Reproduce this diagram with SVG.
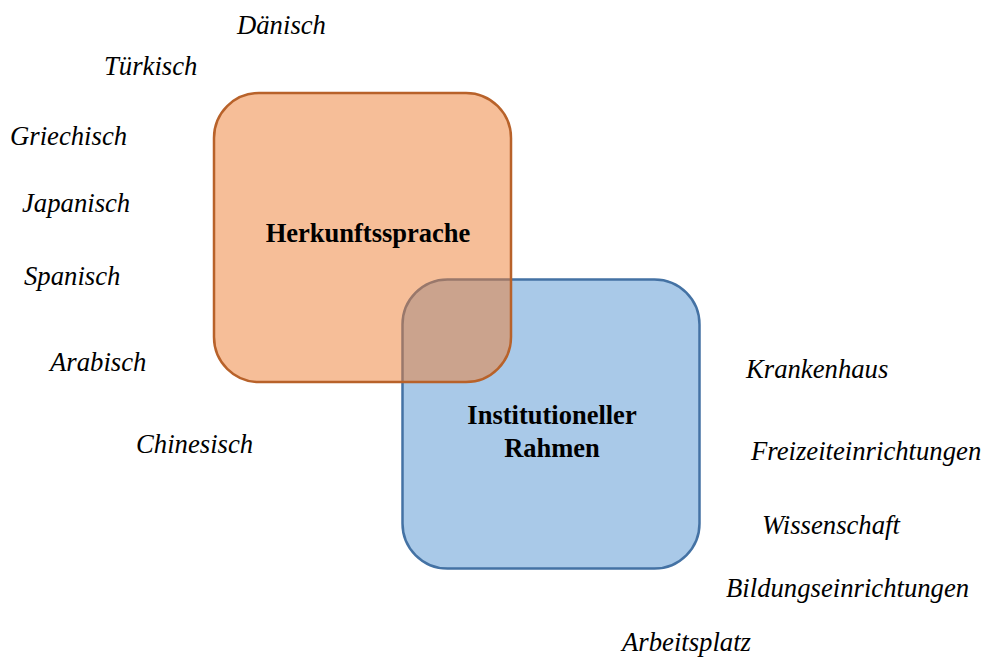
<svg xmlns="http://www.w3.org/2000/svg" width="984" height="657" viewBox="0 0 984 657">
<style>
.lbl{font-family:"Liberation Serif","Times New Roman",serif;font-style:italic;font-size:26.7px;fill:#000}
.ttl{font-family:"Liberation Serif","Times New Roman",serif;font-weight:bold;font-size:26.5px;fill:#000;text-anchor:middle}
</style>
<rect width="984" height="657" fill="#fff"/>
<g id="node-institutioneller-rahmen">
<rect x="402.5" y="279.5" width="297" height="289" rx="45" ry="45" fill="#A9C9E8" stroke="#4472A4" stroke-width="2.5"/>
</g>
<g id="node-herkunftssprache">
<rect x="214" y="93" width="297" height="289" rx="45" ry="45" fill="#ED7D31" fill-opacity="0.5" stroke="#B8622A" stroke-width="2.5"/>
</g>
<g id="titles">
<text class="ttl" x="368" y="242">Herkunftssprache</text>
<text class="ttl" x="552" y="424">Institutioneller</text>
<text class="ttl" x="552" y="457">Rahmen</text>
</g>
<g id="connectors"></g>
<g id="languages">
<text class="lbl" x="237" y="34">Dänisch</text>
<text class="lbl" x="104" y="75">Türkisch</text>
<text class="lbl" x="10" y="145">Griechisch</text>
<text class="lbl" x="22" y="212">Japanisch</text>
<text class="lbl" x="24" y="285">Spanisch</text>
<text class="lbl" x="50" y="371">Arabisch</text>
<text class="lbl" x="136" y="453">Chinesisch</text>
</g>
<g id="institutions">
<text class="lbl" x="746" y="378">Krankenhaus</text>
<text class="lbl" x="751" y="460">Freizeiteinrichtungen</text>
<text class="lbl" x="762" y="534">Wissenschaft</text>
<text class="lbl" x="726" y="597">Bildungseinrichtungen</text>
<text class="lbl" x="622" y="651">Arbeitsplatz</text>
</g>
</svg>
